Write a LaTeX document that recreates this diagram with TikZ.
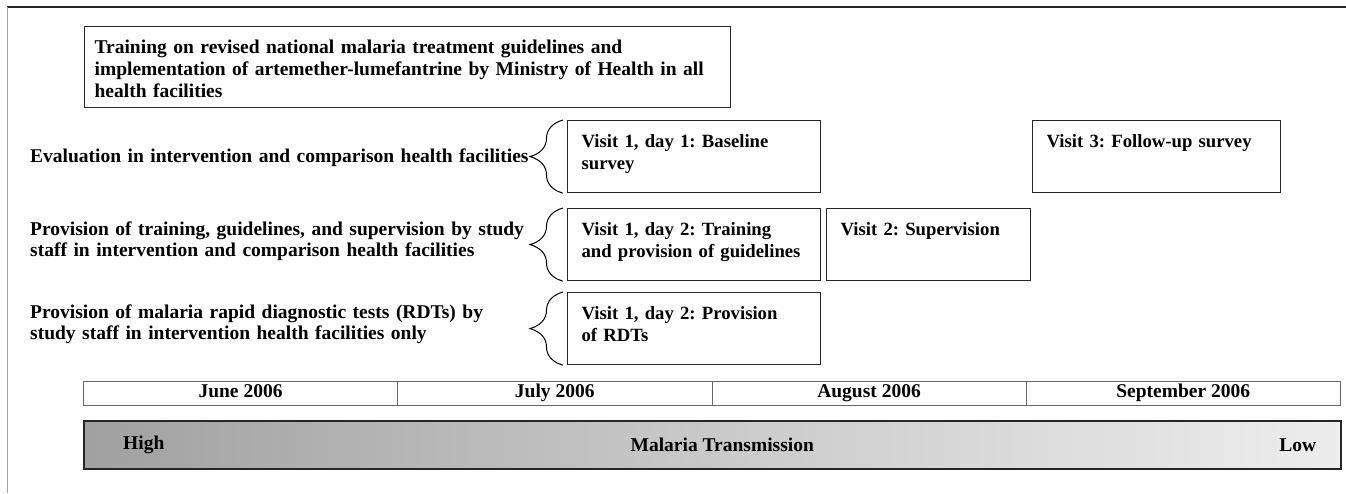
\documentclass[tikz,border=0pt]{standalone}
\usepackage{fontspec}
\setmainfont{Liberation Serif}
\usetikzlibrary{positioning,decorations.pathreplacing}
\pgfdeclarehorizontalshading{transmission}{100bp}{color(0bp)=(black!50); color(25bp)=(black!37); color(50bp)=(black!21); color(75bp)=(black!7); color(90bp)=(white); color(100bp)=(white)}
\tikzset{
  visit/.style={draw=black!85, line width=1.2pt, anchor=north west, align=left, inner xsep=14pt, inner ysep=0pt, text height=27pt, text depth=45pt, font=\fontsize{18.7}{21.5}\selectfont\bfseries\frenchspacing},
  lbl/.style={anchor=base west, align=left, inner sep=0pt, text width=520pt},
  curly/.style={decorate, decoration={brace, amplitude=33pt}, line width=1pt},
  month/.style={draw=black!60, line width=.8pt, minimum width=314.25pt, minimum height=24pt, text height=13pt, text depth=4pt, anchor=north west, inner sep=0pt},
}
\begin{document}
\frenchspacing
\begin{tikzpicture}[x=1pt, y=-1pt, font=\fontsize{19.5}{21.8}\selectfont\bfseries\frenchspacing]
\useasboundingbox (0,0) rectangle (1346,493);
\draw[black!85, line width=1.5pt](7,7)--(1346,7);
\draw[black!35, line width=.8pt](7,7)--(7,493);

\node[visit, text width=626pt, inner xsep=10pt, text depth=54pt, font=\fontsize{19.5}{21.8}\selectfont\bfseries\frenchspacing] (tbox) at (84,26)
  {Training on revised national malaria treatment guidelines and\\implementation of artemether-lumefantrine by Ministry of Health in all\\health facilities};

\node[visit, text width=225pt] (v11) at (567,120) {Visit 1, day 1: Baseline\\survey};
\node[visit, text width=220pt] (v3) at (1032,120) {Visit 3: Follow-up survey};
\node[visit, text width=225pt] (v12) at (567,208) {Visit 1, day 2: Training\\and provision of guidelines};
\node[visit, text width=176pt] (v2) at (826,208) {Visit 2: Supervision};
\node[visit, text width=225pt] (v13) at (567,292) {Visit 1, day 2: Provision\\of RDTs};

\foreach \b in {v11,v12,v13}
{
    \draw[curly]([xshift=-4pt]\b.south west)--([xshift=-4pt]\b.north west);
}

\node[lbl] (eval) at (30,162) {Evaluation in intervention and comparison health facilities};
\node[lbl] (prov) at (30,235) {Provision of training, guidelines, and supervision by study\\staff in intervention and comparison health facilities};
\node[lbl] (rdt) at (30,318) {Provision of malaria rapid diagnostic tests (RDTs) by\\study staff in intervention health facilities only};

\foreach \m [count=\i from 0] in {June 2006, July 2006, August 2006, September 2006}
{
    \node[month] (m\i) at (83+314.25*\i,381) {\m};
}

\node[draw=black!85, line width=1.5pt, shade, shading=transmission, minimum width=1257pt, minimum height=48pt, anchor=north west, inner sep=0pt] (trans) at (83,420) {};
\node[right=40pt of trans.west, inner sep=0pt] (high) {High};
\node (mt) at ([xshift=10pt]trans.center) {Malaria Transmission};
\node[left=25pt of trans.east, inner sep=0pt] (low) {Low};
\end{tikzpicture}
\end{document}
